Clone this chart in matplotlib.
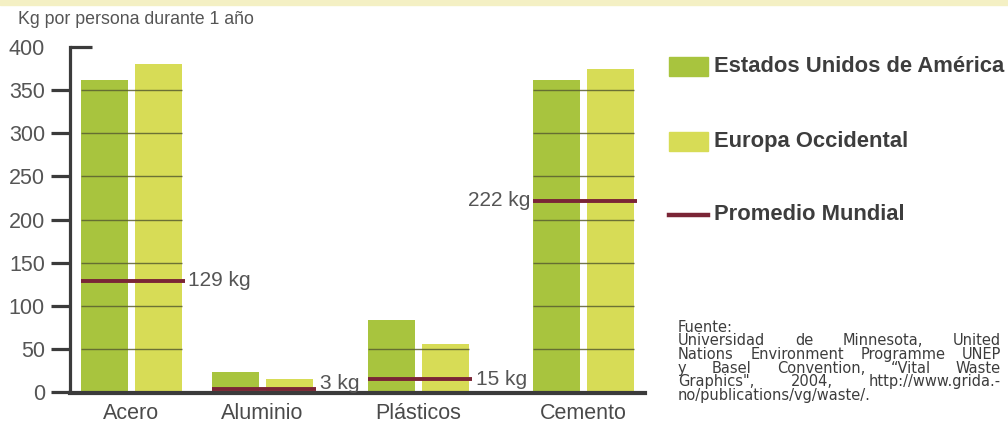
import matplotlib
matplotlib.use('Agg')
import matplotlib.pyplot as plt
from matplotlib.patches import Rectangle
from matplotlib.lines import Line2D

plt.rcParams['font.family'] = ['Liberation Sans', 'DejaVu Sans']

# data (kg per person per year)
categories = ['Acero', 'Aluminio', 'Plásticos', 'Cemento']
usa = [362, 23, 83, 362]
europa = [380, 15, 56, 374]
promedio = [129, 3, 15, 222]
y_ticks = [0, 50, 100, 150, 200, 250, 300, 350, 400]

series_names = ['Estados Unidos de América', 'Europa Occidental', 'Promedio Mundial']
title = 'Kg por persona durante 1 año'
source_lines = [
    'Fuente:',
    'Universidad de Minnesota, United',
    'Nations Environment Programme UNEP',
    'y Basel Convention, \u201cVital Waste',
    'Graphics", 2004, http://www.grida.-',
    'no/publications/vg/waste/.',
]

# layout (pixel-like x units inside the axes)
W, H = 1008, 424
group_x = [131, 262, 418, 583]
bar_w = 47
off = 27
c_usa = '#a8c43e'
c_eu = '#d7dc56'
c_avg = '#7a2536'
c_axis = '#3b3b3b'
c_text = '#4a4a4a'

fig = plt.figure(figsize=(W / 100, H / 100), dpi=100)
fig.patches.append(Rectangle((0, 1 - 5 / H), 1, 5 / H, transform=fig.transFigure,
                             color='#f4f0c4', zorder=0))

ax = fig.add_axes([70 / W, 32 / H, 575 / W, 345 / H])
ax.set_xlim(70, 645)
ax.set_ylim(0, 400)

xs_usa = [x - off for x in group_x]
xs_eu = [x + off for x in group_x]
ax.bar(xs_usa, usa, width=bar_w, color=c_usa, zorder=2)
ax.bar(xs_eu, europa, width=bar_w, color=c_eu, zorder=2)

# thin grid lines only across the bars
for i, x in enumerate(group_x):
    left = x - off - bar_w / 2
    right = x + off + bar_w / 2
    top = max(usa[i], europa[i])
    for t in y_ticks[1:]:
        if t < top:
            ax.hlines(t, left, right, color='#5a5f30', lw=1.0, alpha=0.85, zorder=3)

# world average lines and labels
for i, x in enumerate(group_x):
    left = x - off - bar_w / 2
    right = x + off + bar_w / 2 + 3
    ax.hlines(promedio[i], left, right, color=c_avg, lw=2.8, zorder=4)
    lbl = f'{promedio[i]} kg'
    ly = max(promedio[i], 10)
    if i == 3:
        ax.text(left - 2, ly, lbl, ha='right', va='center',
                fontsize=15, color='#555555', zorder=5)
    else:
        ax.text(right + 4, ly, lbl, ha='left', va='center',
                fontsize=15, color='#555555', zorder=5)

# axes styling
for s in ['top', 'right']:
    ax.spines[s].set_visible(False)
ax.spines['left'].set_linewidth(2.3)
ax.spines['left'].set_color(c_axis)
ax.spines['bottom'].set_linewidth(3.0)
ax.spines['bottom'].set_color(c_axis)
ax.spines['bottom'].set_position(('data', -1.5))
ax.set_yticks(y_ticks)
ax.set_yticklabels([str(t) for t in y_ticks])
ax.tick_params(axis='y', length=14, width=2.3, color=c_axis, pad=4,
               labelsize=15.5, labelcolor='#555555')
ax.yaxis.get_major_ticks()[-1].tick1line.set_visible(False)
ax.add_line(Line2D([0, 22 / 575], [1, 1], transform=ax.transAxes, color=c_axis,
                   lw=2.3, clip_on=False, solid_capstyle='butt'))
ax.set_xticks(group_x)
ax.set_xticklabels(categories)
ax.tick_params(axis='x', length=0, pad=7, labelsize=15.5, labelcolor=c_text)

fig.text(18 / W, 1 - 20 / H, title, fontsize=12.8, color='#555555', va='center')

# legend
leg_y = [66, 141, 215]
fig.patches.append(Rectangle((669 / W, 1 - 76 / H), 39 / W, 19 / H,
                             transform=fig.transFigure, color=c_usa))
fig.patches.append(Rectangle((669 / W, 1 - 151 / H), 39 / W, 19 / H,
                             transform=fig.transFigure, color=c_eu))
fig.lines.append(Line2D([669 / W, 708 / W], [1 - 215 / H, 1 - 215 / H],
                        transform=fig.transFigure, color=c_avg, lw=3.2))
for name, y in zip(series_names, leg_y):
    fig.text(714 / W, 1 - y / H, name, fontsize=15.8, fontweight='bold',
             color='#3d3d3d', va='center')

# source text, justified between x0 and x1
x0, x1 = 678, 1001
renderer = fig.canvas.get_renderer()
src_font = ['DejaVu Sans']
src_size = 10.5


def text_width(s):
    t = fig.text(0, 0, s, fontsize=src_size, family=src_font)
    wd = t.get_window_extent(renderer).width
    t.remove()
    return wd


for k, line in enumerate(source_lines):
    y = 1 - (327 + 13.7 * k) / H
    justify = k in (1, 2, 3, 4)
    words = line.split(' ')
    if not justify or len(words) < 2:
        fig.text(x0 / W, y, line, fontsize=src_size, family=src_font,
                 color='#3d3d3d', va='center')
        continue
    widths = [text_width(w) for w in words]
    gap = (x1 - x0 - sum(widths)) / (len(words) - 1)
    xx = x0
    for w, wd in zip(words, widths):
        fig.text(xx / W, y, w, fontsize=src_size, family=src_font,
                 color='#3d3d3d', va='center')
        xx += wd + gap

fig.savefig('out.png', dpi=100)
